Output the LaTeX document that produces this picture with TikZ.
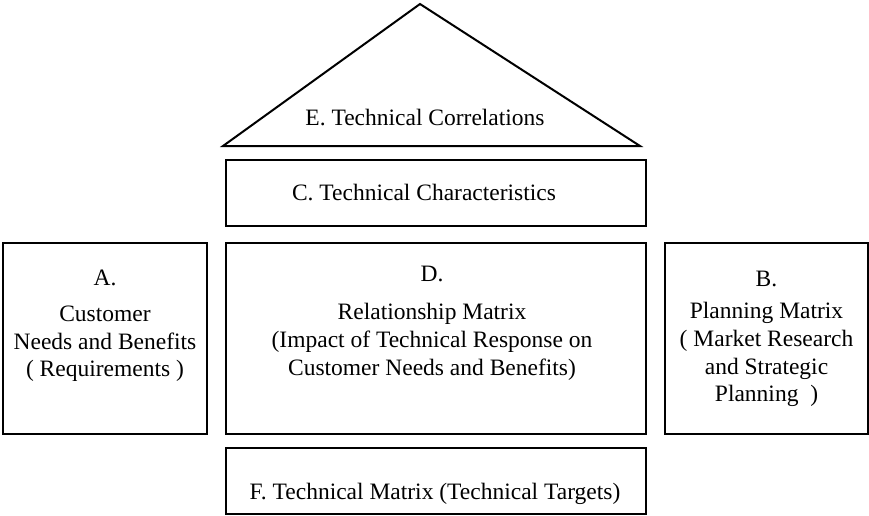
\documentclass[tikz,border=0pt]{standalone}
\usepackage{fontspec}
\setmainfont{Liberation Serif}
\begin{document}
\begin{tikzpicture}[x=1pt,y=-1pt,
  boxline/.style={draw=black,line width=2.2pt},
  txt/.style={anchor=base,inner sep=0pt,font=\fontsize{23.5}{27.5}\selectfont}]
\useasboundingbox (0,0) rectangle (869,516);
% triangle E
\coordinate (tl) at (223,146);
\coordinate (tr) at (640,146);
\coordinate (tp) at (420,4);
\draw[line width=2pt,line join=miter] (tl) -- (tp) -- (tr) -- cycle;
\node[txt] (eT) at (425,125) {E. Technical Correlations};
% boxes
\node[boxline,minimum width=420pt,minimum height=66pt,inner sep=0pt] (C) at (436,193) {};
\node[boxline,minimum width=204pt,minimum height=191pt,inner sep=0pt] (A) at (105,338.5) {};
\node[boxline,minimum width=420pt,minimum height=191pt,inner sep=0pt] (D) at (436,338.5) {};
\node[boxline,minimum width=203pt,minimum height=191pt,inner sep=0pt] (B) at (766.5,338.5) {};
\node[boxline,minimum width=420pt,minimum height=66pt,inner sep=0pt] (F) at (436,481) {};
% texts
\node[txt] (cT) at (424,200) {C. Technical Characteristics};
\node[txt] (fT) at (435,499) {F. Technical Matrix (Technical Targets)};
% A
\node[txt] (a1) at (105,285) {A.};
\node[txt] (a2) at (105,321.5) {Customer};
\node[txt] (a3) at (105,349) {Needs and Benefits};
\node[txt] (a4) at (105,376.5) {( Requirements )};
% D
\node[txt] (d1) at (432,281) {D.};
\node[txt] (d2) at (432,319.5) {Relationship Matrix};
\node[txt] (d3) at (432,347.5) {(Impact of Technical Response on};
\node[txt] (d4) at (432,375) {Customer Needs and Benefits)};
% B
\node[txt] (b1) at (766.5,286) {B.};
\node[txt] (b2) at (766.5,318.5) {Planning Matrix};
\node[txt] (b3) at (766.5,346.5) {( Market Research};
\node[txt] (b4) at (766.5,374) {and Strategic};
\node[txt] (b5) at (766.5,401.5) {Planning~ )};
\end{tikzpicture}
\end{document}
